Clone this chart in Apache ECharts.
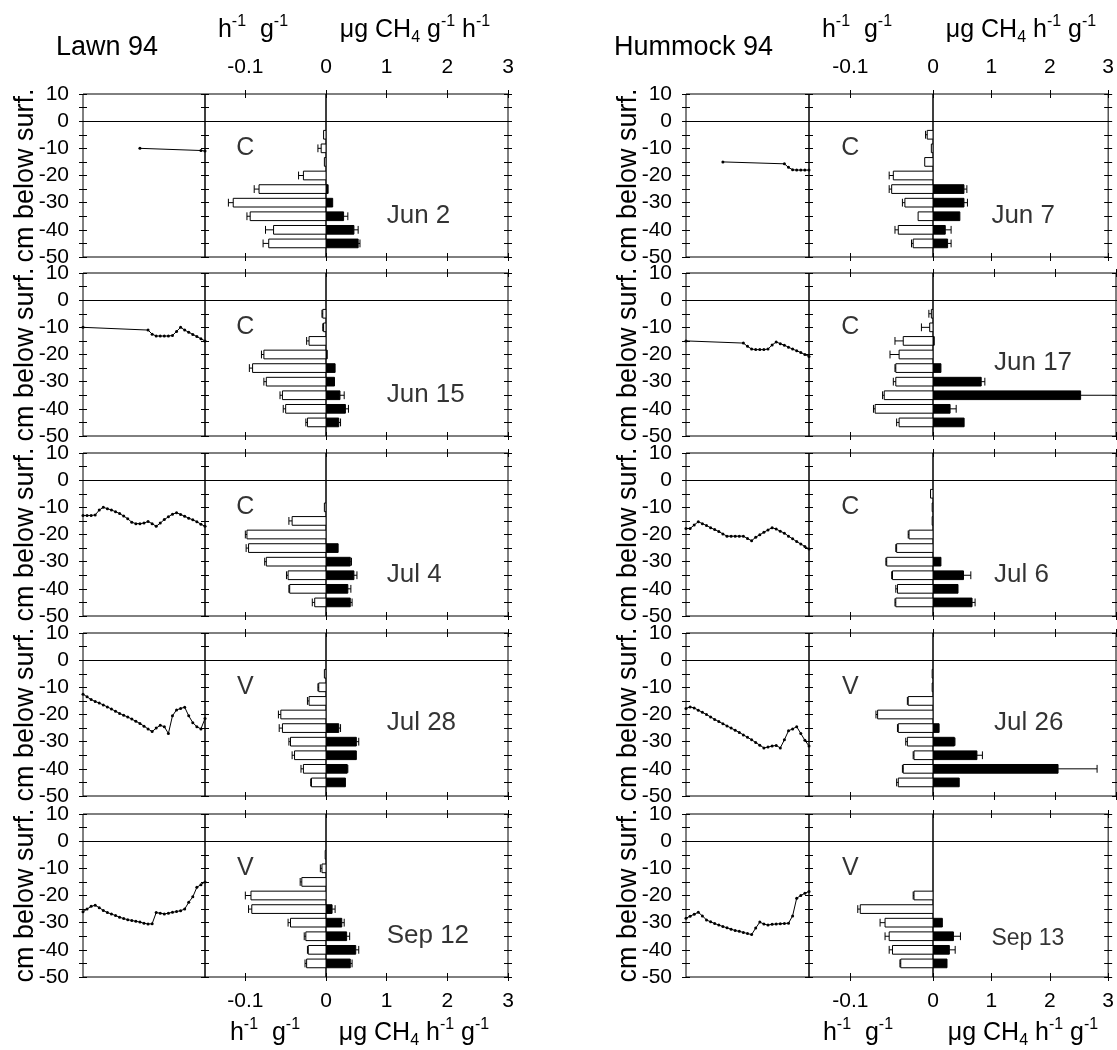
<!DOCTYPE html>
<html>
<head>
<meta charset="utf-8">
<title>Lawn 94 / Hummock 94</title>
<script src="https://cdn.jsdelivr.net/npm/echarts@6/dist/echarts.min.js"></script>
<style>
  html, body { margin: 0; padding: 0; background: #fff; }
  #chart { width: 1117px; height: 1050px; }
</style>
</head>
<body>
<div id="chart"></div>
<script>
// sampling depths (cm below surface), shared by every profile
const depths = [-5, -10, -15, -20, -25, -30, -35, -40, -45];

// ---- Lawn 94 ----
// oxidation (open bars, h-1 g-1), production (black bars, ug CH4 h-1 g-1), error = sd
const lawnJun2Ox = [-0.003, -0.006, -0.002, -0.028, -0.083, -0.115, -0.094, -0.065, -0.071];
const lawnJun2OxSd = [0, 0.004, 0, 0.006, 0.006, 0.006, 0.004, 0.01, 0.007];
const lawnJun2Prod = [0, 0, 0, 0, 0.035, 0.11, 0.29, 0.46, 0.53];
const lawnJun2ProdSd = [0, 0, 0, 0, 0, 0, 0.07, 0.07, 0.03];

const lawnJun15Ox = [-0.004, -0.003, -0.021, -0.077, -0.091, -0.074, -0.054, -0.05, -0.023];
const lawnJun15OxSd = [0.001, 0.001, 0.003, 0.003, 0.004, 0.003, 0.003, 0.003, 0.002];
const lawnJun15Prod = [0, 0, 0, 0.02, 0.15, 0.14, 0.23, 0.32, 0.21];
const lawnJun15ProdSd = [0, 0, 0, 0, 0, 0, 0.07, 0.05, 0.03];

const lawnJul4Ox = [0, -0.002, -0.042, -0.098, -0.096, -0.074, -0.047, -0.045, -0.014];
const lawnJul4OxSd = [0, 0, 0.004, 0.002, 0.003, 0.002, 0.002, 0.001, 0.003];
const lawnJul4Prod = [0, 0, 0, 0, 0.2, 0.4, 0.46, 0.36, 0.4];
const lawnJul4ProdSd = [0, 0, 0, 0, 0, 0.02, 0.05, 0.05, 0.03];

const lawnJul28Ox = [-0.002, -0.009, -0.021, -0.056, -0.054, -0.044, -0.039, -0.028, -0.018];
const lawnJul28OxSd = [0, 0.001, 0.002, 0.003, 0.004, 0.002, 0.003, 0.003, 0.001];
const lawnJul28Prod = [0, 0, 0, 0, 0.21, 0.5, 0.5, 0.35, 0.32];
const lawnJul28ProdSd = [0, 0, 0, 0, 0.03, 0.04, 0, 0.01, 0];

const lawnSep12Ox = [-0.001, -0.005, -0.03, -0.093, -0.092, -0.044, -0.025, -0.022, -0.024];
const lawnSep12OxSd = [0, 0.002, 0.002, 0.007, 0.004, 0.003, 0.002, 0.001, 0.002];
const lawnSep12Prod = [0, 0, 0, 0, 0.1, 0.26, 0.34, 0.49, 0.4];
const lawnSep12ProdSd = [0, 0, 0, 0, 0.05, 0.04, 0.05, 0.05, 0.03];

// ---- Hummock 94 ----
const hummJun7Ox = [-0.007, -0.002, -0.01, -0.048, -0.05, -0.034, -0.018, -0.042, -0.024];
const hummJun7OxSd = [0.002, 0, 0, 0.005, 0.003, 0.003, 0, 0.004, 0.002];
const hummJun7Prod = [0, 0, 0, 0, 0.53, 0.53, 0.46, 0.21, 0.25];
const hummJun7ProdSd = [0, 0, 0, 0, 0.05, 0.06, 0, 0.1, 0.06];

const hummJun17Ox = [-0.002, -0.004, -0.036, -0.041, -0.045, -0.045, -0.059, -0.07, -0.041];
const hummJun17OxSd = [0.003, 0.01, 0.01, 0.011, 0.001, 0.003, 0.002, 0.002, 0.003];
const hummJun17Prod = [0, 0, 0.02, 0, 0.13, 0.79, 2.42, 0.28, 0.51];
const hummJun17ProdSd = [0, 0, 0, 0, 0, 0.06, 0.6, 0.1, 0];

const hummJul6Ox = [-0.003, -0.001, -0.001, -0.029, -0.044, -0.056, -0.049, -0.043, -0.045];
const hummJul6OxSd = [0, 0, 0, 0.001, 0.001, 0.001, 0.001, 0.002, 0.001];
const hummJul6Prod = [0, 0, 0, 0, 0, 0.13, 0.5, 0.41, 0.64];
const hummJul6ProdSd = [0, 0, 0, 0, 0, 0, 0.12, 0, 0.05];

const hummJul26Ox = [-0.001, -0.001, -0.03, -0.067, -0.042, -0.031, -0.023, -0.036, -0.042];
const hummJul26OxSd = [0, 0, 0.001, 0.002, 0.001, 0.002, 0.001, 0.001, 0.002];
const hummJul26Prod = [0, 0, 0, 0, 0.1, 0.35, 0.72, 2.05, 0.43];
const hummJul26ProdSd = [0, 0, 0, 0, 0, 0.01, 0.09, 0.64, 0];

const hummSep13Ox = [0, 0, 0, -0.023, -0.088, -0.058, -0.053, -0.049, -0.039];
const hummSep13OxSd = [0, 0, 0, 0.001, 0.003, 0.006, 0.005, 0.004, 0.001];
const hummSep13Prod = [0, 0, 0, 0, 0, 0.16, 0.35, 0.28, 0.24];
const hummSep13ProdSd = [0, 0, 0, 0, 0, 0, 0.12, 0.1, 0];

// water table before sampling: [day, cm below surface]
const lawnJun2Wt = [[14, -10], [29, -10.8], [30, -11]];
const lawnJun15Wt = [[0, -10], [16, -11], [17, -12.5], [18, -13.2], [19, -13.2], [20, -13.2], [21, -13.2], [22, -13], [23, -11.5], [24, -10], [25, -11], [26, -11.8], [27, -12.6], [28, -13.4], [29, -14.2], [30, -15]];
const lawnJul4Wt = [[0, -13], [1, -13], [2, -13], [3, -12.8], [4, -11], [5, -10], [6, -10.5], [7, -11], [8, -11.6], [9, -12.3], [10, -13.2], [11, -14.2], [12, -15.5], [13, -16], [14, -16], [15, -15.8], [16, -15.2], [17, -16], [18, -17], [19, -15.8], [20, -14.5], [21, -13.5], [22, -12.5], [23, -12], [24, -12.6], [25, -13.3], [26, -14], [27, -14.6], [28, -15.3], [29, -16.2], [30, -17]];
const lawnJul28Wt = [[0, -12.5], [1, -13.5], [2, -14.5], [3, -15.2], [4, -15.8], [5, -16.5], [6, -17.2], [7, -18], [8, -18.8], [9, -19.6], [10, -20.3], [11, -20.9], [12, -21.7], [13, -22.5], [14, -23.3], [15, -24.3], [16, -25.3], [17, -26.3], [18, -25], [19, -24], [20, -24.5], [21, -27], [22, -20.5], [23, -18.3], [24, -17.8], [25, -17.3], [26, -20.5], [27, -23], [28, -24.5], [29, -25.3], [30, -21.5]];
const lawnSep12Wt = [[0, -26], [1, -25], [2, -24], [3, -23.6], [4, -24.5], [5, -25.5], [6, -26.3], [7, -26.8], [8, -27.4], [9, -28], [10, -28.5], [11, -28.9], [12, -29.2], [13, -29.5], [14, -29.8], [15, -30.2], [16, -30.5], [17, -30.4], [18, -26.3], [19, -26.5], [20, -26.8], [21, -26.5], [22, -26.2], [23, -25.9], [24, -25.6], [25, -25], [26, -22.5], [27, -20.5], [28, -17], [29, -16], [30, -15]];
const hummJun7Wt = [[9, -15], [24, -15.7], [25, -17], [26, -17.9], [27, -18], [28, -18], [29, -18], [30, -18]];
const hummJun17Wt = [[0, -15], [14, -15.8], [15, -17], [16, -18], [17, -18.2], [18, -18.2], [19, -18.2], [20, -18], [21, -16.5], [22, -15.4], [23, -16], [24, -16.6], [25, -17.3], [26, -18], [27, -18.6], [28, -19.3], [29, -20], [30, -20.7]];
const hummJul6Wt = [[0, -17.8], [1, -17.8], [2, -16.5], [3, -15.3], [4, -16], [5, -16.7], [6, -17.5], [7, -18.2], [8, -18.9], [9, -19.8], [10, -20.6], [11, -20.6], [12, -20.6], [13, -20.6], [14, -20.6], [15, -21.5], [16, -22.3], [17, -21], [18, -20.1], [19, -19.2], [20, -18.3], [21, -17.5], [22, -18], [23, -18.8], [24, -19.5], [25, -20.6], [26, -21.6], [27, -22.6], [28, -23.5], [29, -24.4], [30, -25.3]];
const hummJul26Wt = [[0, -17.8], [1, -17.2], [2, -17.6], [3, -18.4], [4, -19.2], [5, -20], [6, -20.9], [7, -21.8], [8, -22.6], [9, -23.4], [10, -24.2], [11, -25], [12, -25.8], [13, -26.6], [14, -27.5], [15, -28.4], [16, -29.3], [17, -30.3], [18, -31.3], [19, -32.3], [20, -32], [21, -31.6], [22, -31.4], [23, -32.3], [24, -29.3], [25, -26], [26, -25.3], [27, -24.5], [28, -27], [29, -29.5], [30, -31.6]];
const hummSep13Wt = [[0, -28.4], [1, -27.6], [2, -26.9], [3, -26.2], [4, -27.5], [5, -29], [6, -29.7], [7, -30.3], [8, -30.9], [9, -31.4], [10, -31.9], [11, -32.4], [12, -32.9], [13, -33.2], [14, -33.6], [15, -34], [16, -34.4], [17, -32], [18, -29.8], [19, -30.5], [20, -30.9], [21, -30.6], [22, -30.5], [23, -30.4], [24, -30.3], [25, -30.2], [26, -27.5], [27, -21], [28, -20], [29, -19.2], [30, -18.5]];

// tick labels
const depthTicks = [10, 0, -10, -20, -30, -40, -50];
const oxTicks = [-0.1];
const prodTicks = [0, 1, 2, 3];

const panels = [
  { col: 0, row: 0, wt: lawnJun2Wt, ox: lawnJun2Ox, oxSd: lawnJun2OxSd, prod: lawnJun2Prod, prodSd: lawnJun2ProdSd, site: 'C', date: 'Jun 2', dateY: -35 },
  { col: 0, row: 1, wt: lawnJun15Wt, ox: lawnJun15Ox, oxSd: lawnJun15OxSd, prod: lawnJun15Prod, prodSd: lawnJun15ProdSd, site: 'C', date: 'Jun 15', dateY: -35 },
  { col: 0, row: 2, wt: lawnJul4Wt, ox: lawnJul4Ox, oxSd: lawnJul4OxSd, prod: lawnJul4Prod, prodSd: lawnJul4ProdSd, site: 'C', date: 'Jul 4', dateY: -35 },
  { col: 0, row: 3, wt: lawnJul28Wt, ox: lawnJul28Ox, oxSd: lawnJul28OxSd, prod: lawnJul28Prod, prodSd: lawnJul28ProdSd, site: 'V', date: 'Jul 28', dateY: -23 },
  { col: 0, row: 4, wt: lawnSep12Wt, ox: lawnSep12Ox, oxSd: lawnSep12OxSd, prod: lawnSep12Prod, prodSd: lawnSep12ProdSd, site: 'V', date: 'Sep 12', dateY: -35 },
  { col: 1, row: 0, wt: hummJun7Wt, ox: hummJun7Ox, oxSd: hummJun7OxSd, prod: hummJun7Prod, prodSd: hummJun7ProdSd, site: 'C', date: 'Jun 7', dateY: -35 },
  { col: 1, row: 1, wt: hummJun17Wt, ox: hummJun17Ox, oxSd: hummJun17OxSd, prod: hummJun17Prod, prodSd: hummJun17ProdSd, site: 'C', date: 'Jun 17', dateY: -23 },
  { col: 1, row: 2, wt: hummJul6Wt, ox: hummJul6Ox, oxSd: hummJul6OxSd, prod: hummJul6Prod, prodSd: hummJul6ProdSd, site: 'C', date: 'Jul 6', dateY: -35 },
  { col: 1, row: 3, wt: hummJul26Wt, ox: hummJul26Ox, oxSd: hummJul26OxSd, prod: hummJul26Prod, prodSd: hummJul26ProdSd, site: 'V', date: 'Jul 26', dateY: -23 },
  { col: 1, row: 4, wt: hummSep13Wt, ox: hummSep13Ox, oxSd: hummSep13OxSd, prod: hummSep13Prod, prodSd: hummSep13ProdSd, site: 'V', date: 'Sep 13', dateY: -36, dateSize: 23 },
];

// layout (px)
const COLS = [
  { water: 83, div: 205, zero: 326, right: 508 },
  { water: 686, div: 809, zero: 933, right: 1116 },
];
const ROW_TOP = [94, 273, 453, 633, 814];
const ROW_H = 163;
const FONT = "'Liberation Sans', Arial, Helvetica, sans-serif";
const black = '#000';

const tick = (len) => ({ show: true, inside: false, length: len, lineStyle: { color: black, width: 1 } });
const hidden = { show: false };
const noLine = { show: false, onZero: false };

// horizontal bar with error whisker, drawn through the axes of its grid
const barRender = (open) => (params, api) => {
  const d = api.value(0);
  const v = api.value(1);
  const e = api.value(2);
  if (!v) return null;
  const base = api.coord([0, d]);
  const tip = api.coord([v, d]);
  const h = api.size([0, 3.2])[1];
  const children = [{
    type: 'rect',
    shape: { x: Math.min(base[0], tip[0]), y: base[1] - h / 2, width: Math.abs(tip[0] - base[0]), height: h },
    style: { fill: open ? '#fff' : black, stroke: black, lineWidth: 1 },
  }];
  if (e !== v) {
    const end = api.coord([e, d]);
    children.push({ type: 'line', shape: { x1: tip[0], y1: tip[1], x2: end[0], y2: end[1] }, style: { stroke: black, lineWidth: 1 } });
    children.push({ type: 'line', shape: { x1: end[0], y1: end[1] - h * 0.45, x2: end[0], y2: end[1] + h * 0.45 }, style: { stroke: black, lineWidth: 1 } });
  }
  return { type: 'group', children };
};

const grid = [];
const xAxis = [];
const yAxis = [];
const series = [];

const depthAxis = {
  type: 'value', min: -50, max: 10, interval: 5,
  axisLine: noLine, splitLine: hidden,
};
// x axis whose line sits on depth 0 (the surface line across each panel)
const surfaceAxis = (gridIndex, min, max) => ({
  gridIndex, type: 'value', min, max, position: 'bottom',
  axisLine: { show: true, onZero: true, lineStyle: { color: black, width: 1 } },
  axisTick: hidden, axisLabel: hidden, splitLine: hidden,
});

panels.forEach((p) => {
  const c = COLS[p.col];
  const top = ROW_TOP[p.row];
  const box = { top, height: ROW_H, show: true, borderColor: black, borderWidth: 1 };
  const gW = grid.push({ ...box, left: c.water, width: c.div - c.water }) - 1;
  const gN = grid.push({ ...box, left: c.div, width: c.zero - c.div }) - 1;
  const gP = grid.push({ ...box, left: c.zero, width: c.right - c.zero }) - 1;

  // water table section
  const xW = xAxis.push(surfaceAxis(gW, 0, 30)) - 1;
  const yW = yAxis.push({
    ...depthAxis, gridIndex: gW, position: 'left', offset: -4, axisTick: tick(8),
    axisLabel: { customValues: depthTicks, fontSize: 21, color: black, margin: 18 },
    name: 'cm below surf.', nameLocation: 'middle', nameRotate: 90, nameGap: 48, nameMoveOverlap: false,
    nameTextStyle: { fontSize: 27, color: black },
  }) - 1;
  yAxis.push({ ...depthAxis, gridIndex: gW, position: 'right', offset: -4, axisTick: tick(8), axisLabel: hidden });

  // oxidation section
  const oxAxis = (pos, showLabel) => ({
    gridIndex: gN, type: 'value', min: -0.15, max: 0, position: pos, offset: -4,
    axisLine: noLine, splitLine: hidden,
    axisTick: { ...tick(8), customValues: oxTicks },
    axisLabel: { show: showLabel, customValues: oxTicks, fontSize: 21, color: black, margin: pos === 'top' ? 20 : 18 },
  });
  const xN = xAxis.push(surfaceAxis(gN, -0.15, 0)) - 1;
  xAxis.push(oxAxis('bottom', p.row === 4));
  xAxis.push(oxAxis('top', p.row === 0));
  const yN = yAxis.push({ ...depthAxis, gridIndex: gN, show: false }) - 1;

  // production section
  const prodAxis = (pos, showLabel) => ({
    gridIndex: gP, type: 'value', min: 0, max: 3, interval: 1, position: pos, offset: -4,
    axisLine: noLine, splitLine: hidden,
    axisTick: { ...tick(8), customValues: prodTicks },
    axisLabel: { show: showLabel, customValues: prodTicks, fontSize: 21, color: black, margin: pos === 'top' ? 20 : 18 },
  });
  const xP = xAxis.push(surfaceAxis(gP, 0, 3)) - 1;
  xAxis.push(prodAxis('bottom', p.row === 4));
  xAxis.push(prodAxis('top', p.row === 0));
  const yP = yAxis.push({ ...depthAxis, gridIndex: gP, position: 'right', offset: -4, axisTick: tick(8), axisLabel: hidden }) - 1;

  series.push({
    type: 'line', xAxisIndex: xW, yAxisIndex: yW, data: p.wt,
    symbol: 'circle', symbolSize: 3, showSymbol: true,
    lineStyle: { color: black, width: 1 }, itemStyle: { color: black },
  });
  series.push({
    type: 'custom', xAxisIndex: xN, yAxisIndex: yN, clip: true,
    data: depths.map((d, i) => [d, p.ox[i], p.ox[i] - p.oxSd[i]]),
    encode: { x: [1, 2], y: 0 },
    renderItem: barRender(true),
  });
  series.push({
    type: 'custom', xAxisIndex: xP, yAxisIndex: yP, clip: true,
    data: depths.map((d, i) => [d, p.prod[i], p.prod[i] + p.prodSd[i]]),
    encode: { x: [1, 2], y: 0 },
    renderItem: barRender(false),
  });
  // site / date annotations
  series.push({
    type: 'scatter', xAxisIndex: xN, yAxisIndex: yN, symbolSize: 0, silent: true,
    data: [{ value: [-0.1, -10], name: p.site }],
    label: { show: true, position: 'inside', formatter: '{b}', fontSize: 25, color: black },
  });
  series.push({
    type: 'scatter', xAxisIndex: xP, yAxisIndex: yP, symbolSize: 0, silent: true,
    data: [{ value: [1.0, p.dateY], name: p.date }],
    label: { show: true, position: 'inside', align: 'left', formatter: '{b}', fontSize: p.dateSize || 26, color: black },
  });
});

// unit labels with super/subscripts
const unitRich = {
  n: { fontSize: 25, lineHeight: 32, verticalAlign: 'middle', fill: black, fontFamily: FONT },
  s: { fontSize: 16, lineHeight: 16, verticalAlign: 'top', fill: black, fontFamily: FONT },
  b: { fontSize: 16, lineHeight: 16, verticalAlign: 'bottom', fill: black, fontFamily: FONT },
};
const textEl = (x, y, text, opts) => ({
  type: 'text', x, y, silent: true,
  style: {
    text, fill: black, fontFamily: FONT,
    align: 'center', verticalAlign: 'middle', textAlign: 'center', textVerticalAlign: 'middle',
    ...opts,
  },
});
const perH = '{n|h}{s|-1}{n|  g}{s|-1}';
const ugGH = '{n|μg CH}{b|4}{n| g}{s|-1}{n| h}{s|-1}';
const ugHG = '{n|μg CH}{b|4}{n| h}{s|-1}{n| g}{s|-1}';

const graphic = [
  textEl(56, 48, 'Lawn 94', { fontSize: 27, align: 'left', textAlign: 'left' }),
  textEl(614, 48, 'Hummock 94', { fontSize: 27, align: 'left', textAlign: 'left' }),
  textEl(253, 30, perH, { rich: unitRich }),
  textEl(415, 30, ugGH, { rich: unitRich }),
  textEl(857, 30, perH, { rich: unitRich }),
  textEl(1021, 30, ugHG, { rich: unitRich }),
  textEl(265, 1033, perH, { rich: unitRich }),
  textEl(414, 1033, ugHG, { rich: unitRich }),
  textEl(858, 1033, perH, { rich: unitRich }),
  textEl(1023, 1033, ugHG, { rich: unitRich }),
];

const chart = echarts.init(document.getElementById('chart'));
chart.setOption({
  animation: false,
  backgroundColor: '#fff',
  textStyle: { fontFamily: FONT, color: black },
  grid, xAxis, yAxis, series, graphic,
});
</script>
</body>
</html>
